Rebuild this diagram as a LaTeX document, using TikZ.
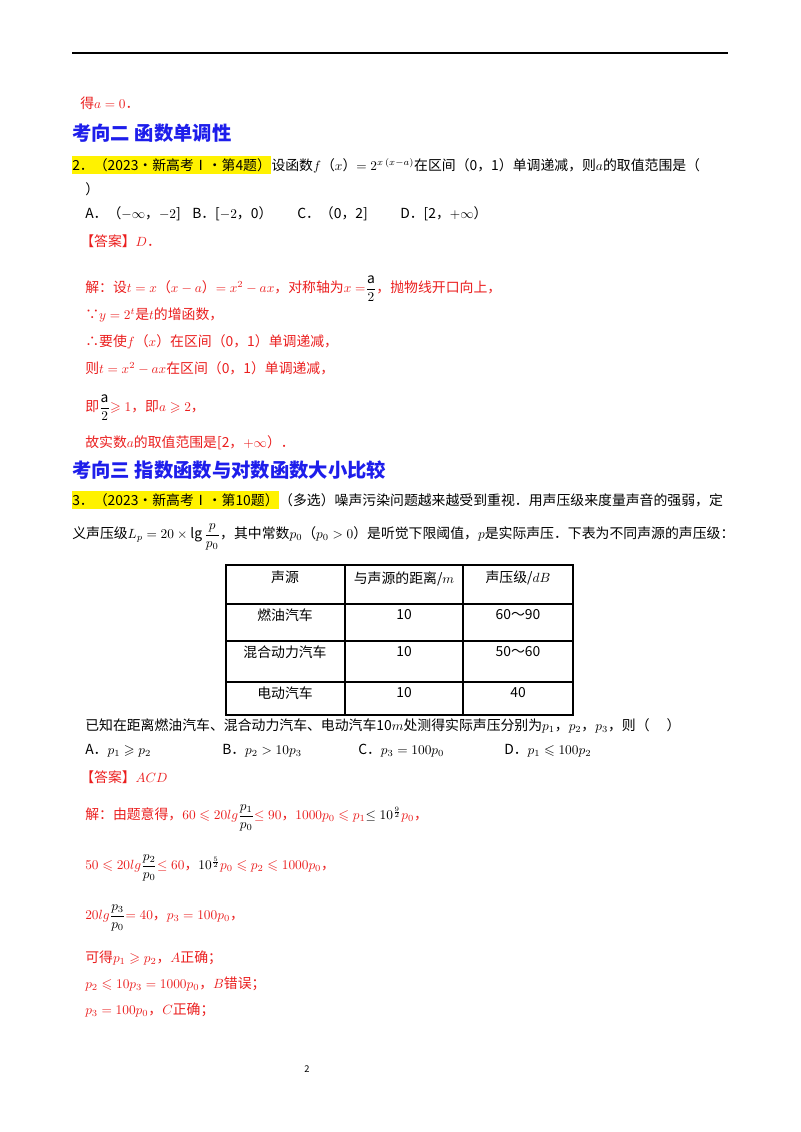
\documentclass[tikz,border=0pt]{standalone}
\usepackage{amsmath,amssymb}
\usepackage{fontspec}
\setmainfont{Noto Sans CJK SC}
\definecolor{ans}{RGB}{235,30,30}
\definecolor{hd}{RGB}{30,30,235}
\begin{document}
\begin{tikzpicture}[x=0.75pt,y=-0.75pt,
  t/.style={anchor=west,inner sep=0pt,font=\fontsize{10.4pt}{12pt}\selectfont},
  r/.style={t,text=ans},
  hl/.style={t,fill=yellow,inner ysep=2pt},
  h/.style={anchor=west,inner sep=0pt,text=hd,font=\fontsize{14.5pt}{16pt}\selectfont\bfseries},
  cell/.style={anchor=north,inner sep=0pt,font=\fontsize{10.4pt}{12pt}\selectfont}]
\useasboundingbox (0,0) rectangle (800,1132);
\fill[white] (0,0) rectangle (800,1132);
\draw[line width=0.8pt] (72,53) -- (728,53);
\node[r] (l1) at (80,103) {得$a=0$．};
\node[h] (h2) at (72,133) {考向二\ 函数单调性};
\node[hl] (q2h) at (72,165) {2．（2023•新高考Ⅰ•第4题）};
\node[t,anchor=base west] (q2) at (q2h.base east) {设函数$f$（$x$）$=2^{x\,(x-a)}$在区间（0，1）单调递减，则$a$的取值范围是（};
\node[t] (q2b) at (85,189) {）};
\node[t] (oA) at (85,214) {A．（$-\infty$，$-2$]};
\node[t] (oB) at (192,214) {B．[$-2$，0）};
\node[t] (oC) at (297,214) {C．（0，2]};
\node[t] (oD) at (400,214) {D．[2，$+\infty$）};
\node[r] (a2) at (80,241) {【答案】$D$．};
\node[r] (s1) at (85,289) {解：设$t=x$（$x-a$）$=x^2-ax$，对称轴为$x=$\textcolor{black}{$\genfrac{}{}{0.4pt}{0}{\mathrm{a}}{2}$}，抛物线开口向上，};
\node[r] (s2) at (85,315) {∵$y=2^t$是$t$的增函数，};
\node[r] (s3) at (85,342) {∴要使$f$（$x$）在区间（0，1）单调递减，};
\node[r] (s4) at (85,368) {则$t=x^2-ax$在区间（0，1）单调递减，};
\node[r] (s5) at (85,408) {即\textcolor{black}{$\genfrac{}{}{0.4pt}{0}{\mathrm{a}}{2}$}$\geqslant1$，即$a\geqslant2$，};
\node[r] (s6) at (85,443) {故实数$a$的取值范围是[2，$+\infty$）．};
\node[h] (h3) at (72,470) {考向三\ 指数函数与对数函数大小比较};
\node[hl] (q3h) at (72,500) {3．（2023•新高考Ⅰ•第10题）};
\node[t,anchor=base west] (q3) at (q3h.base east) {（多选）噪声污染问题越来越受到重视．用声压级来度量声音的强弱，定};
\node[t] (q3b) at (72,537) {义声压级$L_p=20\times\lg\dfrac{p}{p_0}$，其中常数$p_0$（$p_0>0$）是听觉下限阈值，$p$是实际声压．下表为不同声源的声压级：};
\draw[line width=0.8pt] (226,565) rectangle (573,715);
\draw[line width=0.8pt] (226,604) -- (573,604) (226,641) -- (573,641) (226,682) -- (573,682)
  (345,565) -- (345,715) (463,565) -- (463,715);
\node[cell] (c11) at (285,571) {声源};
\node[cell] (c12) at (404,571) {与声源的距离/$m$};
\node[cell] (c13) at (518,571) {声压级/$dB$};
\node[cell] (c21) at (285,609) {燃油汽车};
\node[cell] (c22) at (404,609) {10};
\node[cell] (c23) at (518,609) {60～90};
\node[cell] (c31) at (285,646) {混合动力汽车};
\node[cell] (c32) at (404,646) {10};
\node[cell] (c33) at (518,646) {50～60};
\node[cell] (c41) at (285,687) {电动汽车};
\node[cell] (c42) at (404,687) {10};
\node[cell] (c43) at (518,687) {40};
\node[t] (q3c) at (85,726) {已知在距离燃油汽车、混合动力汽车、电动汽车10$m$处测得实际声压分别为$p_1$，$p_2$，$p_3$，则（\quad\ ）};
\node[t] (pA) at (85,751) {A．$p_1\geqslant p_2$};
\node[t] (pB) at (222,751) {B．$p_2>10p_3$};
\node[t] (pC) at (358,751) {C．$p_3=100p_0$};
\node[t] (pD) at (504,751) {D．$p_1\leqslant100p_2$};
\node[r] (a3) at (80,777) {【答案】$ACD$};
\node[r] (u1) at (85,818) {解：由题意得，$60\leqslant20lg$\textcolor{black}{$\dfrac{p_1}{p_0}$}$\leq90$，$1000p_0\leqslant p_1$\textcolor{black}{$\leq10^{\frac{9}{2}}$}$p_0$，};
\node[r] (u2) at (85,868) {$50\leqslant20lg$\textcolor{black}{$\dfrac{p_2}{p_0}$}$\leq60$，\textcolor{black}{$10^{\frac{5}{2}}$}$p_0\leqslant p_2\leqslant1000p_0$，};
\node[r] (u3) at (85,918) {$20lg$\textcolor{black}{$\dfrac{p_3}{p_0}$}$=40$，$p_3=100p_0$，};
\node[r] (u4) at (85,958) {可得$p_1\geqslant p_2$，$A$正确；};
\node[r] (u5) at (85,984) {$p_2\leqslant10p_3=1000p_0$，$B$错误；};
\node[r] (u6) at (85,1010) {$p_3=100p_0$，$C$正确；};
\node[anchor=center,inner sep=0pt,font=\fontsize{7pt}{8pt}\selectfont] (pg) at (307,1069) {2};
\end{tikzpicture}
\end{document}
